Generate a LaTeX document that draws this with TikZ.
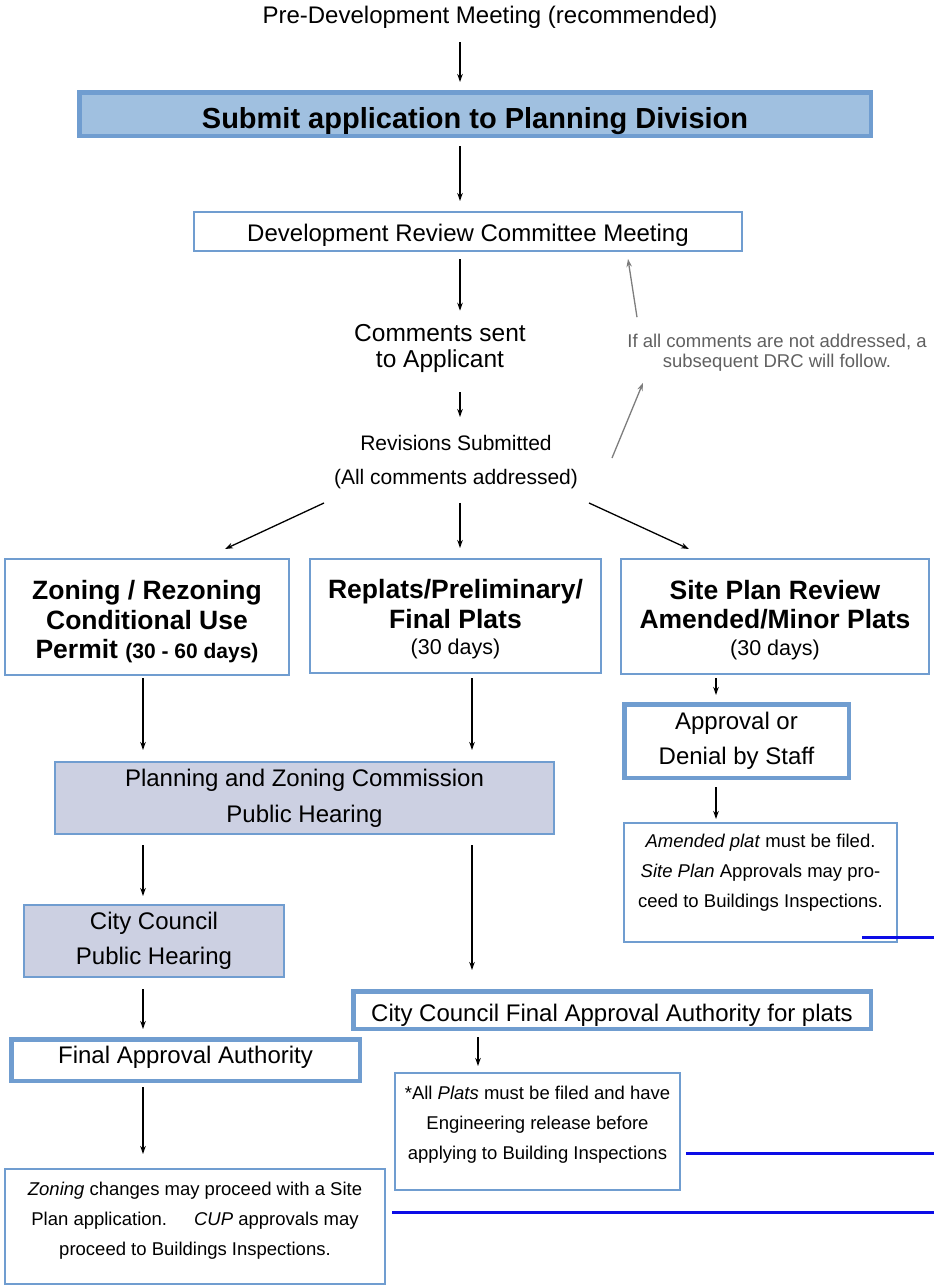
\documentclass[tikz,border=0pt]{standalone}
\usepackage{fontspec}
\setmainfont{Liberation Sans}
\usetikzlibrary{arrows.meta, positioning}
\definecolor{boxblue}{RGB}{112,157,208}
\definecolor{submitblue}{RGB}{160,192,224}
\definecolor{hearinggray}{RGB}{204,208,226}
\definecolor{notegray}{RGB}{96,96,96}
\definecolor{arrowgray}{RGB}{125,125,125}
\definecolor{lineblue}{RGB}{12,12,230}
\tikzset{
>={Stealth[length=8pt, width=5.5pt]}, % small solid arrow heads
every node/.style={inner sep=0pt, align=center}, % text sits right on the node
flow/.style={->, black, line width=1.3pt}, % the black arrows
back/.style={->, arrowgray, line width=1.3pt}, % the grey arrows back to the DRC
txt/.style={font=\fontsize{24}{28}\selectfont}, % free text
box/.style={draw=boxblue, line width=2pt, fill=white, font=\fontsize{24}{35}\selectfont}, % thin framed box
bigbox/.style={box, line width=4.5pt}, % heavy framed box
hearing/.style={box, fill=hearinggray}, % public hearings
pathbox/.style={box, font=\bfseries\fontsize{26.5}{29.5}\selectfont}, % the three review paths
note/.style={box, font=\fontsize{18.5}{30}\selectfont}, % small notes
blueline/.style={lineblue, line width=3pt},
}

\begin{document}
\begin{tikzpicture}[x=1pt, y=-1pt]
  \useasboundingbox (0,0) rectangle (934,1286);
  % columns of the arrows
  \coordinate (c0) at (460,0);
  \coordinate (c1) at (143,0);
  \coordinate (c2) at (472,0);
  \coordinate (c3) at (716,0);
  \coordinate (c4) at (478,0);

  \node[txt] (pre) at (490,17) {Pre-Development Meeting (recommended)};
  \node[bigbox, fill=submitblue, font=\bfseries\fontsize{29}{32}\selectfont, text height=35pt, text depth=6pt, minimum width=791.5pt, minimum height=43.5pt] (submit) at (475,114) {Submit application to Planning Division};
  \node[box, text height=25.5pt, text depth=5pt, minimum width=548pt, minimum height=39pt] (drc) at (468,231.5) {Development Review Committee Meeting};
  \node[txt, font=\fontsize{24.5}{26}\selectfont] (comments) at (440,348) {Comments sent\\to Applicant\hspace{12pt}};
  \node[txt, font=\fontsize{21}{34}\selectfont] (revisions) at (456,462) {Revisions Submitted\\(All comments addressed)};
  \node[font=\fontsize{18.5}{20}\selectfont, text=notegray] (drcnote) at (777,353) {If all comments are not addressed, a\\subsequent DRC will follow.};

  \node[pathbox, minimum width=284pt, minimum height=116pt] (zoning) at (147,617) {\rule{0pt}{29pt}Zoning / Rezoning\\Conditional Use\\Permit {\fontsize{21}{29}\selectfont(30 - 60 days)}};
  \node[pathbox, minimum width=291pt, minimum height=114pt] (replats) at (455.5,616) {\rule{0pt}{26pt}Replats/Preliminary/\\Final Plats\\[-3pt]{\mdseries\fontsize{21.5}{27}\selectfont(30 days)}};
  \node[pathbox, minimum width=308pt, minimum height=115pt] (siteplan) at (775,616.5) {\rule{0pt}{26pt}Site Plan Review\\Amended/Minor Plats\\[-3pt]{\mdseries\fontsize{21.5}{27}\selectfont(30 days)}};

  \node[bigbox, minimum width=224.5pt, minimum height=73.5pt] (approval) at (736.5,741) {Approval or\\Denial by Staff};
  \node[hearing, font=\fontsize{24}{36}\selectfont, minimum width=499pt, minimum height=72pt] (pzc) at (304.5,798) {Planning and Zoning Commission\\Public Hearing};
  \node[note, minimum width=273pt, minimum height=119pt] (amended) at (760.5,882.5) {\textit{Amended plat} must be filed.\\\textit{Site Plan} Approvals may pro-\\ceed to Buildings Inspections.\\[-6pt]\mbox{}};
  \node[hearing, minimum width=260pt, minimum height=72pt] (council) at (154,941) {City Council\\Public Hearing};
  \node[bigbox, text height=27.5pt, text depth=5pt, minimum width=517.5pt, minimum height=37.5pt] (ccfinal) at (612,1010) {City Council Final Approval Authority for plats};
  \node[bigbox, text height=17.5pt, text depth=11pt, minimum width=348.5pt, minimum height=41.5pt] (finalauth) at (185.5,1060) {Final Approval Authority};
  \node[note, minimum width=285pt, minimum height=117pt] (platsnote) at (537.5,1131.5) {*All \textit{Plats} must be filed and have\\Engineering release before\\applying to Building Inspections\\[-12pt]\mbox{}};
  \node[note, minimum width=380pt, minimum height=115pt] (zoningnote) at (195,1226.5) {\textit{Zoning} changes may proceed with a Site\\Plan application.\hspace{27pt}\textit{CUP} approvals may\\proceed to Buildings Inspections.\\[-14pt]\mbox{}};

  \draw[flow, shorten <=14pt, shorten >=8pt] (pre.south -| c0) -- (submit.north -| c0);
  \draw[flow, shorten <=8pt, shorten >=10pt] (submit.south -| c0) -- (drc.north -| c0);
  \draw[flow, shorten <=7pt, shorten >=13pt] (drc.south -| c0) -- (comments.north -| c0);
  \draw[flow, shorten <=20pt, shorten >=18pt] (comments.south -| c0) -- (revisions.north -| c0);
  \draw[flow, shorten <=14pt, shorten >=10pt] (revisions.south -| c0) -- (replats.north -| c0);
  \draw[flow] ([xshift=-132pt, yshift=-14pt]revisions.south) -- ([xshift=78pt, yshift=9pt]zoning.north);
  \draw[flow] ([xshift=133pt, yshift=-14pt]revisions.south) -- ([xshift=-86pt, yshift=9pt]siteplan.north);
  \draw[flow, shorten <=2pt, shorten >=11pt] (zoning.south -| c1) -- (pzc.north -| c1);
  \draw[flow, shorten <=4pt, shorten >=11pt] (replats.south -| c2) -- (pzc.north -| c2);
  \draw[flow, shorten <=3pt, shorten >=7pt] (siteplan.south -| c3) -- (approval.north -| c3);
  \draw[flow, shorten <=7pt, shorten >=3pt] (approval.south -| c3) -- (amended.north -| c3);
  \draw[flow, shorten <=10pt, shorten >=8pt] (pzc.south -| c1) -- (council.north -| c1);
  \draw[flow, shorten <=10pt, shorten >=19pt] (pzc.south -| c2) -- (ccfinal.north -| c2);
  \draw[flow, shorten <=11pt, shorten >=8pt] (council.south -| c1) -- (finalauth.north -| c1);
  \draw[flow, shorten <=6pt, shorten >=6pt] (ccfinal.south -| c4) -- (platsnote.north -| c4);
  \draw[flow, shorten <=4pt, shorten >=14pt] (finalauth.south -| c1) -- (zoningnote.north -| c1);

  % back to the DRC
  \draw[back] ([xshift=-140pt, yshift=17pt]drcnote.north) -- ([xshift=160pt, yshift=-7pt]drc.south);
  \draw[back] ([xshift=156pt, yshift=4pt]revisions.center) -- ([xshift=-134pt, yshift=-11pt]drcnote.south);

  % blue rules
  \coordinate (l1) at (862,937);
  \coordinate (r1) at (934,937);
  \coordinate (r2) at (934,1153);
  \coordinate (r3) at (934,1212);
  \draw[blueline] (l1) -- (r1);
  \draw[blueline] (platsnote.east |- r2) ++(5pt,0) -- (r2);
  \draw[blueline] (zoningnote.east |- r3) ++(6pt,0) -- (r3);
\end{tikzpicture}
\end{document}
